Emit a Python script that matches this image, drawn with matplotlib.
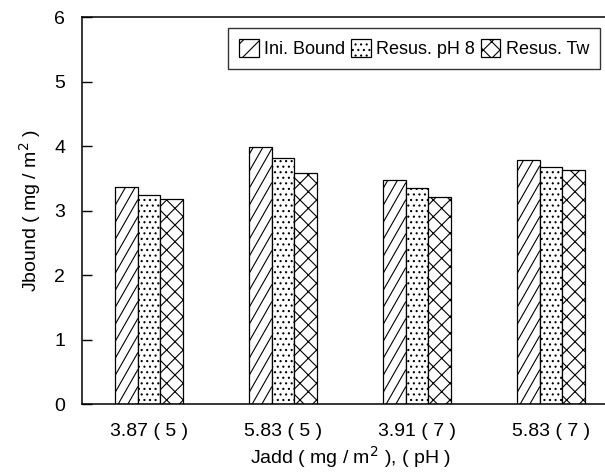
import numpy as np
import matplotlib
matplotlib.use("Agg")
import matplotlib.pyplot as plt
from matplotlib.patches import Rectangle

plt.rcParams["font.family"] = ["Liberation Sans", "DejaVu Sans"]
plt.rcParams["hatch.linewidth"] = 0.8

# Adsorbed amount (mg/m2) per condition
groups = ["3.87 ( 5 )", "5.83 ( 5 )", "3.91 ( 7 )", "5.83 ( 7 )"]
ini_bound = [3.36, 3.98, 3.47, 3.79]
resus_ph8 = [3.24, 3.81, 3.35, 3.67]
resus_tw = [3.18, 3.58, 3.21, 3.63]

series = [
    ("Ini. Bound", ini_bound, None),
    ("Resus. pH 8", resus_ph8, "..."),
    ("Resus. Tw", resus_tw, "xx"),
]

W, H = 605, 473
fig = plt.figure(figsize=(W / 100, H / 100), dpi=100)
# axes runs off the right edge, so no right frame shows
ax = fig.add_axes([82 / W, 1 - 404 / H, 536 / W, 387 / H])
ax.set_xlim(-0.5, 3.5)
ax.set_ylim(0, 6)

x = np.arange(len(groups))
width = 0.17
all_bars = []
for i, (name, vals, hatch) in enumerate(series):
    bars = ax.bar(x + (i - 1) * width, vals, width, color="white", edgecolor="black",
                  linewidth=0.9, hatch=hatch, label=name)
    all_bars.append(bars)


def steep_hatch(axis, bar, rise_px=40, step_px=17):
    # steep diagonal stripes, clipped to the bar outline
    px_per_y = axis.bbox.height / 6.0
    rise = rise_px / px_per_y
    step = step_px / px_per_y
    x0, x1 = bar.get_x(), bar.get_x() + bar.get_width()
    top = bar.get_height()
    for y0 in np.arange(-rise, top, step):
        ln, = axis.plot([x0, x1], [y0, y0 + rise], color="black", lw=0.8, zorder=3)
        ln.set_clip_path(bar)


for b in all_bars[0]:
    steep_hatch(ax, b)

ax.set_yticks(range(7))
ax.set_xticks(x)
ax.set_xticklabels(groups)
ax.tick_params(axis="y", direction="in", length=7, width=1, labelsize=14, pad=12)
ax.tick_params(axis="x", length=0, labelsize=14, pad=14)
ax.spines["right"].set_visible(False)
for s in ["left", "bottom", "top"]:
    ax.spines[s].set_linewidth(1.1)

ax.set_ylabel("Jbound ( mg / m$^2$ )", fontsize=14, labelpad=8)
# x title sits right at the bottom edge of the figure
fig.text((82 + 536 / 2) / W, 3 / H, "Jadd ( mg / m$^2$ ), ( pH )", fontsize=14,
         ha="center", va="bottom")

# legend handle for the striped series
proxy = Rectangle((0, 0), 1, 1, facecolor="white", edgecolor="black", hatch="//", lw=0.9)
handles, labels = ax.get_legend_handles_labels()
handles[0] = proxy
leg = ax.legend(handles, labels, loc="upper right", bbox_to_anchor=((600 - 82) / 536, 0.972),
                ncol=3, fontsize=13, frameon=True, fancybox=False, edgecolor="black",
                handlelength=1.1, handleheight=1.2, handletextpad=0.3,
                columnspacing=0.3, borderpad=0.6, borderaxespad=0)
leg.get_frame().set_linewidth(1)

fig.savefig("out.png", dpi=100)
